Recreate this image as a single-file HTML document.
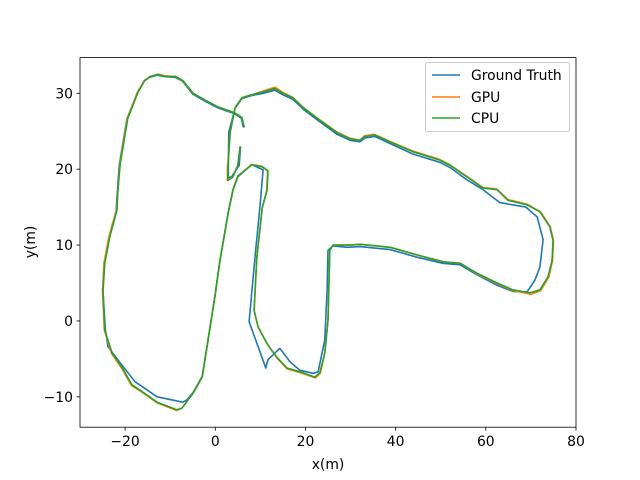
<!DOCTYPE html>
<html><head><meta charset="utf-8"><style>
body{margin:0;background:#fff;}
svg{display:block;font-family:"DejaVu Sans","Liberation Sans",sans-serif;}
</style></head><body>
<svg id="chart" width="640" height="480" viewBox="0 0 640 480" xmlns="http://www.w3.org/2000/svg">
<rect x="0" y="0" width="640" height="480" fill="#fff"/>
<g id="series"></g>
<rect x="80" y="57.6" width="496" height="369.6" fill="none" stroke="#000" stroke-width="0.8"/>
<g id="axes"></g>
<text x="328" y="469" font-size="13.9" text-anchor="middle">x(m)</text>
<text x="35" y="242" font-size="13.9" text-anchor="middle" transform="rotate(-90 35 242)">y(m)</text>
<g>
<rect x="425.5" y="62.5" width="144" height="69" rx="2" fill="#fff" fill-opacity="0.8" stroke="#ccc" stroke-width="1"/>
<g><line x1="432" y1="75" x2="460" y2="75" stroke="#1f77b4" stroke-width="1.5"/><text x="471" y="80" font-size="13.9">Ground Truth</text></g>
<g><line x1="432" y1="97" x2="460" y2="97" stroke="#ff7f0e" stroke-width="1.5"/><text x="471" y="102" font-size="13.9">GPU</text></g>
<g><line x1="432" y1="118" x2="460" y2="118" stroke="#2ca02c" stroke-width="1.5"/><text x="471" y="123" font-size="13.9">CPU</text></g>
</g>
</svg>
<script>
const xTicks=[-20,0,20,40,60,80];
const yTicks=[-10,0,10,20,30];
const xDomain=[-30,80];
const yDomain=[-14,34.7];
const cpuX=[6.4,5.9,4.4,0.6,-2.3,-4.9,-7.2,-8.8,-11.2,-12.7,-14.5,-15.6,-17.1,-19.4,-21.1,-21.6,-21.8,-23.4,-24.5,-24.9,-24.5,-22.9,-20.7,-18.5,-16.0,-12.9,-8.5,-7.4,-4.9,-2.9,-1.6,-0.1,1.0,2.8,3.9,5.0,8.1,10.4,11.7,11.5,10.4,9.2,8.6,9.5,11.7,13.7,15.9,18.8,22.1,23.2,24.3,25.0,25.4,26.1,29.9,32.1,38.8,44.7,50.5,54.3,58.0,62.5,66.0,69.8,72.0,73.8,74.7,74.9,74.2,72.0,69.1,64.9,62.5,59.4,55.8,52.1,49.8,43.8,38.7,35.4,33.2,32.1,29.9,27.0,22.6,19.5,17.2,15.0,13.2,10.6,8.1,5.9,4.4,3.3,2.8,2.8,3.9,5.0,5.5];
const cpuY=[25.6,26.8,27.4,28.2,29.1,30.0,31.7,32.2,32.2,32.5,32.2,31.7,30.2,26.7,20.6,17.2,14.6,11.1,7.6,4.0,-1.2,-4.2,-6.1,-8.4,-9.4,-10.7,-11.7,-11.5,-9.5,-7.4,-2.5,3.1,7.8,14.0,17.2,19.0,20.6,20.3,19.8,17.2,14.9,8.3,1.4,-0.8,-3.2,-4.8,-6.2,-6.7,-7.4,-6.8,-4.2,0.1,9.3,10.0,10.0,10.1,9.7,8.7,7.8,7.6,6.3,5.0,4.1,3.7,4.1,5.8,8.0,10.6,12.4,14.4,15.3,15.9,17.3,17.5,19.0,20.5,21.2,22.3,23.6,24.5,24.3,23.8,24.0,24.8,26.7,28.1,29.4,30.0,30.6,30.2,29.8,29.4,28.1,24.9,20.1,18.5,19.0,20.5,22.9];
const gpuX=[6.4,5.9,4.4,0.6,-2.3,-4.9,-7.3,-8.8,-11.2,-12.6,-14.5,-15.7,-17.2,-19.5,-21.2,-21.6,-21.9,-23.6,-24.7,-25.0,-24.6,-23.0,-20.8,-18.6,-16.0,-12.9,-8.6,-7.4,-4.9,-2.9,-1.6,-0.1,1.0,2.8,3.9,5.0,8.0,10.3,11.6,11.4,10.4,9.2,8.6,9.5,11.7,13.7,15.9,18.8,22.2,23.3,24.3,25.0,25.4,26.1,29.9,32.0,38.8,44.7,50.6,54.4,58.1,62.6,66.1,70.0,72.2,74.0,74.8,75.0,74.3,72.1,69.1,64.9,62.4,59.3,55.7,52.0,49.7,43.7,38.6,35.3,33.1,32.0,29.8,27.0,22.5,19.4,17.1,15.0,13.3,10.6,8.1,5.9,4.4,3.3,2.7,2.7,3.9,5.0,5.5];
const gpuY=[25.6,26.8,27.4,28.2,29.1,30.0,31.7,32.2,32.3,32.5,32.2,31.7,30.2,26.7,20.6,17.2,14.6,11.1,7.6,4.0,-1.2,-4.3,-6.2,-8.5,-9.5,-10.8,-11.8,-11.5,-9.5,-7.4,-2.5,3.1,7.8,14.0,17.2,19.0,20.6,20.4,19.8,17.2,14.9,8.3,1.4,-0.8,-3.2,-4.9,-6.3,-6.8,-7.5,-6.9,-4.2,0.1,9.3,10.0,10.0,10.1,9.7,8.7,7.8,7.6,6.2,4.9,4.0,3.5,4.0,5.8,8.0,10.6,12.4,14.4,15.4,16.0,17.4,17.6,19.1,20.6,21.3,22.4,23.7,24.6,24.4,23.8,24.1,24.9,26.8,28.2,29.5,30.1,30.8,30.3,29.8,29.4,28.1,24.9,20.1,18.5,19.0,20.5,22.9];
const gtX=[6.2,5.8,4.3,0.5,-2.4,-5.0,-7.3,-8.9,-11.3,-12.8,-14.6,-15.8,-17.3,-19.6,-21.3,-21.7,-22.0,-23.6,-24.6,-24.9,-24.4,-23.8,-21.1,-17.8,-12.9,-7.2,-6.3,-4.9,-2.9,-1.6,-0.1,1.0,2.8,3.9,5.0,8.1,10.6,9.9,8.8,7.5,11.2,11.7,14.3,16.6,18.8,21.7,22.8,24.3,24.8,25.0,26.1,29.2,32.1,38.8,44.7,50.5,54.3,58.0,62.5,66.0,69.1,70.9,72.0,72.7,71.4,68.9,63.1,59.4,55.8,52.1,49.8,43.8,38.7,35.4,33.2,32.1,29.9,27.0,22.6,19.5,17.2,15.0,13.2,10.6,8.1,5.9,4.4,3.0,2.9,2.9,3.6,5.3,5.6];
const gtY=[25.6,26.7,27.3,28.1,29.0,29.9,31.6,32.1,32.2,32.4,32.1,31.6,30.1,26.6,20.5,17.1,14.5,11.0,7.5,3.9,-1.1,-3.4,-5.5,-8.0,-10.0,-10.7,-10.4,-9.4,-7.3,-2.4,3.2,7.9,14.1,17.3,19.1,20.6,19.9,15.0,8.4,-0.1,-6.2,-5.1,-3.6,-5.4,-6.5,-6.9,-6.7,-2.5,4.1,9.3,9.9,9.7,9.8,9.4,8.4,7.6,7.4,6.1,4.7,3.9,3.8,5.4,7.1,10.7,13.7,15.0,15.6,17.3,18.6,20.2,20.9,22.0,23.4,24.3,24.1,23.6,23.8,24.6,26.5,27.9,29.2,29.8,30.4,30.0,29.7,29.3,28.0,24.9,20.7,18.9,19.0,20.5,22.9];

const L=80,R=576,T=57.6,B=427.2;
function sx(v){return L+(v-xDomain[0])/(xDomain[1]-xDomain[0])*(R-L);}
function sy(v){return B-(v-yDomain[0])/(yDomain[1]-yDomain[0])*(B-T);}
const NS="http://www.w3.org/2000/svg";
const sg=document.getElementById('series');
function drawSeries(xs,ys,color,name){
  const p=document.createElementNS(NS,'polyline');
  p.setAttribute('points',xs.map((x,i)=>sx(x).toFixed(1)+','+sy(ys[i]).toFixed(1)).join(' '));
  p.setAttribute('fill','none');p.setAttribute('stroke',color);p.setAttribute('stroke-width','1.6');
  p.setAttribute('stroke-linejoin','round');p.setAttribute('stroke-linecap','square');
  
  
  sg.appendChild(p);
}
drawSeries(gtX,gtY,'#1f77b4','ground-truth-line');
drawSeries(gpuX,gpuY,'#ff7f0e','gpu-line');
drawSeries(cpuX,cpuY,'#2ca02c','cpu-line');

const ag=document.getElementById('axes');
xTicks.forEach(t=>{
  const x=sx(t);
  const l=document.createElementNS(NS,'line');
  l.setAttribute('x1',x);l.setAttribute('x2',x);l.setAttribute('y1',B);l.setAttribute('y2',B+3.5);
  l.setAttribute('stroke','#000');l.setAttribute('stroke-width','0.8');
  
  
  ag.appendChild(l);
  const tx=document.createElementNS(NS,'text');
  tx.setAttribute('x',x);tx.setAttribute('y',B+19);tx.setAttribute('font-size','13.9');tx.setAttribute('text-anchor','middle');
  tx.textContent=t<0?'\u2212'+Math.abs(t):String(t);
  
  
  ag.appendChild(tx);
});
yTicks.forEach(t=>{
  const y=sy(t);
  const l=document.createElementNS(NS,'line');
  l.setAttribute('x1',L-3.5);l.setAttribute('x2',L);l.setAttribute('y1',y);l.setAttribute('y2',y);
  l.setAttribute('stroke','#000');l.setAttribute('stroke-width','0.8');
  
  
  ag.appendChild(l);
  const tx=document.createElementNS(NS,'text');
  tx.setAttribute('x',L-7);tx.setAttribute('y',y+5);tx.setAttribute('font-size','13.9');tx.setAttribute('text-anchor','end');
  tx.textContent=t<0?'\u2212'+Math.abs(t):String(t);
  
  
  ag.appendChild(tx);
});
</script>
</body></html>
